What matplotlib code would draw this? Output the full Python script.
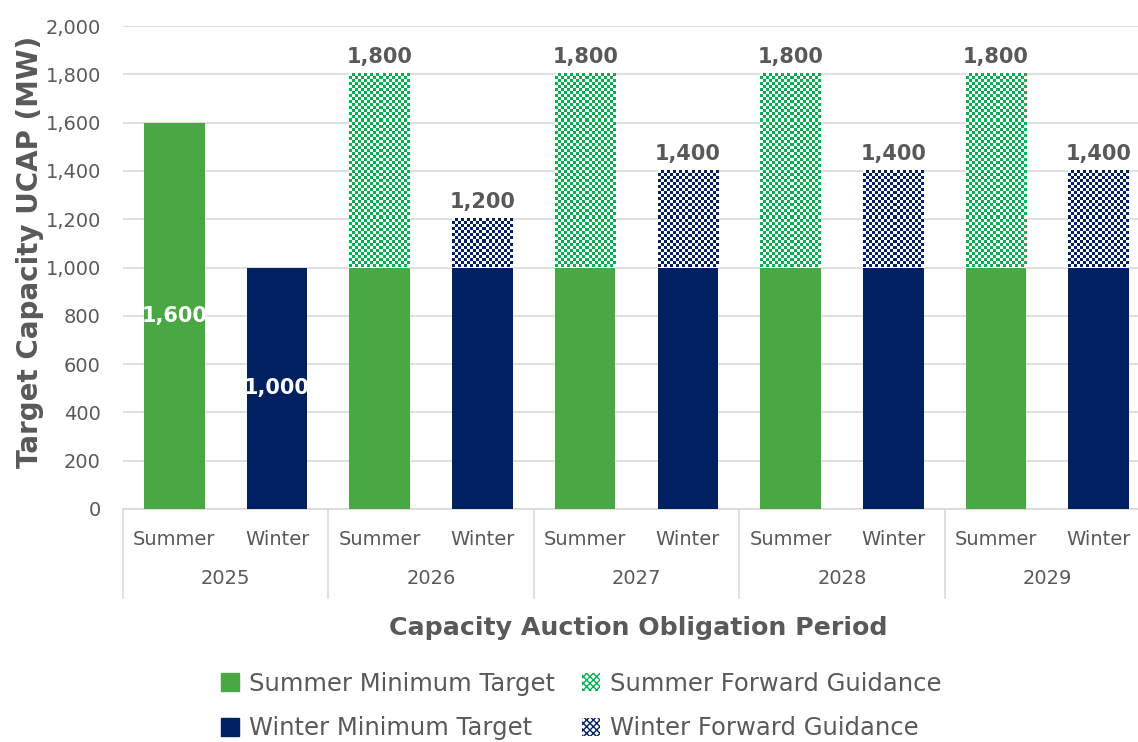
import numpy as np
import matplotlib.pyplot as plt
from matplotlib.patches import Patch
from matplotlib.colors import to_rgb

# data
years = ["2025", "2026", "2027", "2028", "2029"]
seasons = ["Summer", "Winter"]
summer_min = [1600, 1000, 1000, 1000, 1000]
summer_fwd = [0, 800, 800, 800, 800]
winter_min = [1000, 1000, 1000, 1000, 1000]
winter_fwd = [0, 200, 400, 400, 400]

GREEN = "#4AA844"
GREEN_CHK = "#00B050"
NAVY = "#002060"
GRAY = "#595959"

plt.rcParams["font.family"] = ["DejaVu Sans"]

fig = plt.figure(figsize=(11.38, 7.42), dpi=100)
ax = fig.add_axes([123 / 1138, 1 - 509 / 742, 1027 / 1138, 483 / 742])

n = len(years)
xs_sum = np.arange(n) * 2
xs_win = np.arange(n) * 2 + 1
w = 0.59

ax.bar(xs_sum, summer_min, w, color=GREEN, zorder=3)
ax.bar(xs_win, winter_min, w, color=NAVY, zorder=3)
fwd_s = ax.bar(xs_sum, summer_fwd, w, bottom=summer_min, color="white", zorder=3)
fwd_w = ax.bar(xs_win, winter_fwd, w, bottom=winter_min, color="white", zorder=3)

ax.set_xlim(-0.5, 2 * n - 0.5)
ax.set_ylim(0, 2000)


def checker(bars, color, cell=3.0):
    # fill each bar with a small checkerboard like Excel's pattern fill
    rgb = np.array(to_rgb(color))
    for b in bars:
        if b.get_height() <= 0:
            continue
        x0, y0 = b.get_x(), b.get_y()
        x1, y1 = x0 + b.get_width(), y0 + b.get_height()
        p0 = ax.transData.transform((x0, y0))
        p1 = ax.transData.transform((x1, y1))
        nc = max(1, int(round(abs(p1[0] - p0[0]) / cell)))
        nr = max(1, int(round(abs(p1[1] - p0[1]) / cell)))
        ii, jj = np.indices((nr, nc))
        mask = (ii + jj) % 2 == 0
        img = np.ones((nr, nc, 3))
        img[mask] = rgb
        ax.imshow(img, extent=(x0, x1, y0, y1), origin="lower",
                  interpolation="nearest", aspect="auto", zorder=4)


checker(fwd_s, GREEN_CHK)
checker(fwd_w, NAVY)
ax.set_xlim(-0.5, 2 * n - 0.5)
ax.set_ylim(0, 2000)

# data labels
for i in range(n):
    for x, base, fwd in [(xs_sum[i], summer_min[i], summer_fwd[i]),
                         (xs_win[i], winter_min[i], winter_fwd[i])]:
        total = base + fwd
        if fwd == 0:
            ax.text(x, total / 2, f"{total:,}", ha="center", va="center",
                    color="white", fontsize=15, fontweight="bold", zorder=5)
        else:
            ax.annotate(f"{total:,}", (x, total), xytext=(0, 5),
                        textcoords="offset points", ha="center", va="bottom",
                        color=GRAY, fontsize=15, fontweight="bold", zorder=5)

# y axis
ax.set_yticks(np.arange(0, 2001, 200))
ax.set_yticklabels([f"{v:,}" for v in range(0, 2001, 200)])
ax.tick_params(axis="y", length=0, pad=16, labelsize=14, labelcolor=GRAY)
ax.yaxis.grid(True, color="#D9D9D9", linewidth=1.2, zorder=0)
ax.set_axisbelow(True)
fig.text(30 / 1138, 1 - 252 / 742, "Target Capacity UCAP (MW)", rotation=90,
         ha="center", va="center", fontsize=20, fontweight="bold", color=GRAY)

for s in ["top", "right", "left"]:
    ax.spines[s].set_visible(False)
ax.spines["bottom"].set_color("#D9D9D9")
ax.spines["bottom"].set_linewidth(1.2)

# two-level category axis
ax.set_xticks(np.arange(2 * n))
ax.set_xticklabels(seasons * n)
ax.tick_params(axis="x", length=0, pad=15, labelsize=14, labelcolor=GRAY)
trans = ax.get_xaxis_transform()
for k in range(n + 1):
    ax.plot([2 * k - 0.5, 2 * k - 0.5], [0, -0.185], transform=trans,
            color="#D9D9D9", linewidth=1.2, clip_on=False)
for k, yr in enumerate(years):
    ax.text(2 * k + 0.5, -0.143, yr, transform=trans, ha="center",
            va="center", fontsize=14, color=GRAY)

fig.text(638 / 1138, 1 - 628 / 742, "Capacity Auction Obligation Period",
         ha="center", va="center", fontsize=18.2, fontweight="bold", color=GRAY)

# legend
handles = [
    Patch(facecolor=GREEN, edgecolor=GREEN, label="Summer Minimum Target"),
    Patch(facecolor=NAVY, edgecolor=NAVY, label="Winter Minimum Target"),
    Patch(facecolor="white", edgecolor=GREEN_CHK, hatch="xxxxx", linewidth=0,
          label="Summer Forward Guidance"),
    Patch(facecolor="white", edgecolor=NAVY, hatch="xxxxx", linewidth=0,
          label="Winter Forward Guidance"),
]
leg = fig.legend(handles=handles, ncol=2, loc="center",
                 bbox_to_anchor=(581 / 1138, 1 - 706 / 742), frameon=False,
                 fontsize=17.5, handlelength=0.75, handleheight=0.75,
                 handletextpad=0.4, columnspacing=1.1, labelspacing=0.85)
for t in leg.get_texts():
    t.set_color(GRAY)

fig.savefig("out.png", dpi=100)
